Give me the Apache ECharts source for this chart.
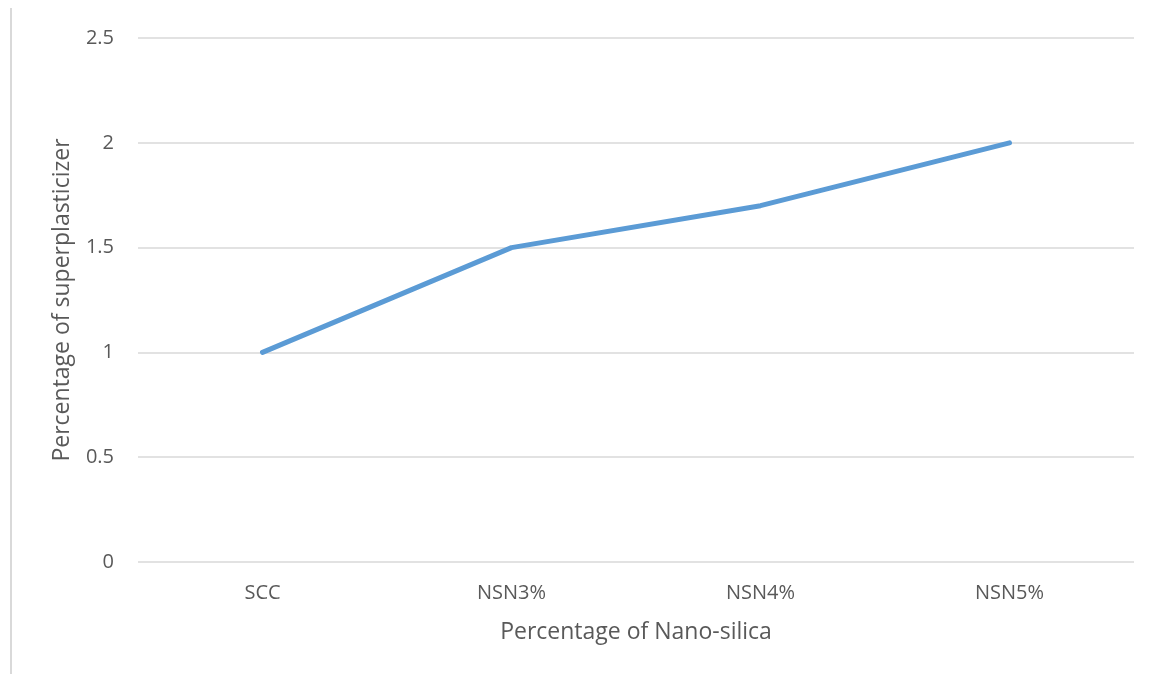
<!DOCTYPE html>
<html>
<head>
<meta charset="utf-8">
<script src="https://cdn.jsdelivr.net/npm/echarts@6/dist/echarts.min.js"></script>
<style>
  html, body { margin: 0; padding: 0; background: #fff; }
  #chart { width: 1149px; height: 674px; }
</style>
</head>
<body>
<div id="chart"></div>
<script>
const categories = ["SCC", "NSN3%", "NSN4%", "NSN5%"];
const superplasticizer = [1, 1.5, 1.7, 2];

const chart = echarts.init(document.getElementById("chart"));
const textFont = "'Open Sans', 'Noto Sans', sans-serif";

chart.setOption({
    animation: false,
    graphic: [{
        type: "line",
        shape: { x1: 11, y1: 8, x2: 11, y2: 674 },
        style: { stroke: "#d9d9d9", lineWidth: 2 }
    }],
    grid: { left: 138, right: 15, top: 38, bottom: 112 },
    xAxis: {
        type: "category",
        data: categories,
        name: "Percentage of Nano-silica",
        nameLocation: "middle",
        nameGap: 59,
        nameTextStyle: { color: "#595959", fontSize: 23, fontFamily: textFont },
        axisLine: { show: false },
        axisTick: { show: false },
        axisLabel: { color: "#595959", fontSize: 20, margin: 21, fontFamily: textFont }
    },
    yAxis: {
        type: "value",
        min: 0,
        max: 2.5,
        interval: 0.5,
        name: "Percentage of superplasticizer",
        nameLocation: "middle",
        nameGap: 64,
        nameTextStyle: { color: "#595959", fontSize: 23, fontFamily: textFont },
        axisLine: { show: false },
        axisTick: { show: false },
        axisLabel: { color: "#595959", fontSize: 20, margin: 24, fontFamily: textFont },
        splitLine: { lineStyle: { color: "#d9d9d9", width: 1.5 } }
    },
    series: [{
        type: "line",
        data: superplasticizer,
        showSymbol: false,
        lineStyle: { color: "#5b9bd5", width: 5, cap: "round", join: "round" }
    }]
});
</script>
</body>
</html>
